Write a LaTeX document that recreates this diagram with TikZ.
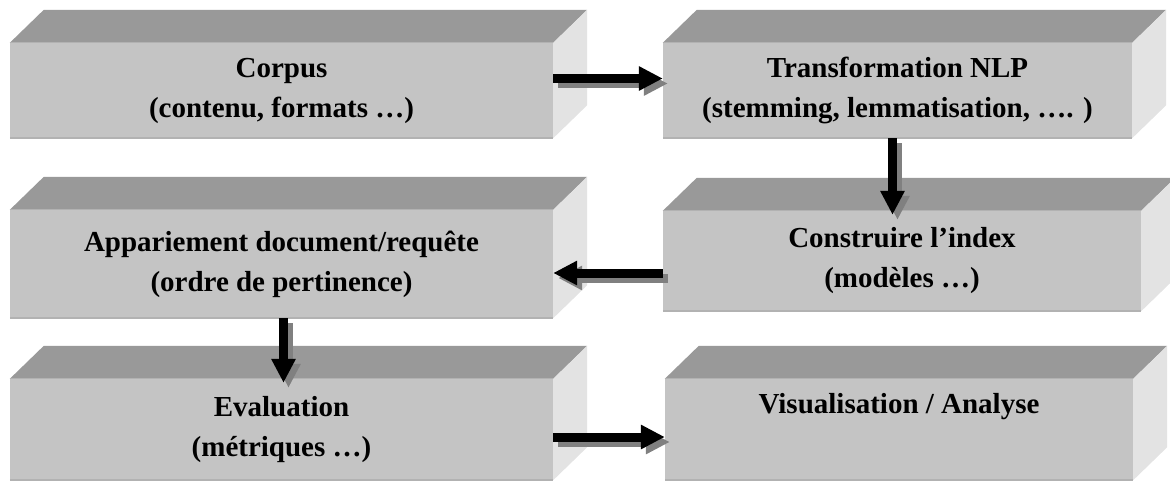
\documentclass[tikz,border=0pt]{standalone}
\usepackage{fontspec}
\setmainfont{Liberation Serif}
\usepackage{tikz}
\usetikzlibrary{arrows.meta}

\definecolor{slabfront}{RGB}{196,196,196}
\definecolor{slabtop}{RGB}{153,153,153}
\definecolor{slabside}{RGB}{227,227,227}
\definecolor{slabedge}{RGB}{178,178,178}
\definecolor{shadowgray}{RGB}{128,128,128}

\begin{document}
\begin{tikzpicture}[x=1pt, y=-1pt,
	slab/.style={fill=slabfront, inner sep=0pt, align=center,
		font=\fontsize{29}{40}\selectfont\bfseries},
	flow/.style={line width=9pt, -{Triangle[length=24pt, width=23pt]}},
	]

	\useasboundingbox (0,0) rectangle (1170,488);

	% front faces
	\node[slab, minimum width=543pt, minimum height=95pt] (corpus) at (281.5,90.5)
		{Corpus\\(contenu, formats …)};
	\node[slab, minimum width=469pt, minimum height=95pt] (nlp) at (897.5,90.5)
		{Transformation NLP\\(stemming, lemmatisation, …. )};
	\node[slab, minimum width=543pt, minimum height=108pt] (match) at (281.5,264)
		{Appariement document/requête\\(ordre de pertinence)};
	\node[slab, minimum width=478pt, minimum height=100pt] (index) at (902,261)
		{Construire l’index\\(modèles …)};
	\node[slab, minimum width=543pt, minimum height=101pt] (eval) at (281.5,429.5)
		{Evaluation\\(métriques …)};
	\node[slab, minimum width=468pt, minimum height=101pt] (visu) at (899,429.5)
		{Visualisation / Analyse\\\strut};

	% top and side faces
	\foreach \n in {corpus,nlp,match,index,eval,visu} {
		\fill[slabtop] (\n.north west) -- ++(34,-33)
			-- ([shift={(34,-33)}]\n.north east) -- (\n.north east) -- cycle;
		\fill[slabside] (\n.north east) -- ++(34,-33)
			-- ([shift={(34,-33)}]\n.south east) -- (\n.south east) -- cycle;
		\draw[slabedge, line width=2pt] (\n.south west) -- (\n.south east);
		\draw[slabedge, line width=1pt] (\n.north west) -- (\n.north east);
	}

	% arrows, shadow first
	\foreach \s/\c in {5/shadowgray, 0/black} {
		\draw[flow, \c] ([shift={(\s,\s-12)}]corpus.east) -- ([shift={(\s,\s-12)}]nlp.west);
		\draw[flow, \c] ([shift={(\s-5,\s)}]nlp.south) -- ([shift={(\s-5,\s+4)}]nlp.south |- index.north);
		\draw[flow, \c] ([shift={(\s,\s+12)}]index.west) -- ([shift={(\s,\s+12)}]index.west -| match.east);
		\draw[flow, \c] ([shift={(\s+2,\s)}]match.south) -- ([shift={(\s+2,\s+4)}]match.south |- eval.north);
		\draw[flow, \c] ([shift={(\s,\s+7.5)}]eval.east) -- ([shift={(\s,\s+7.5)}]eval.east -| visu.west);
	}

\end{tikzpicture}
\end{document}
